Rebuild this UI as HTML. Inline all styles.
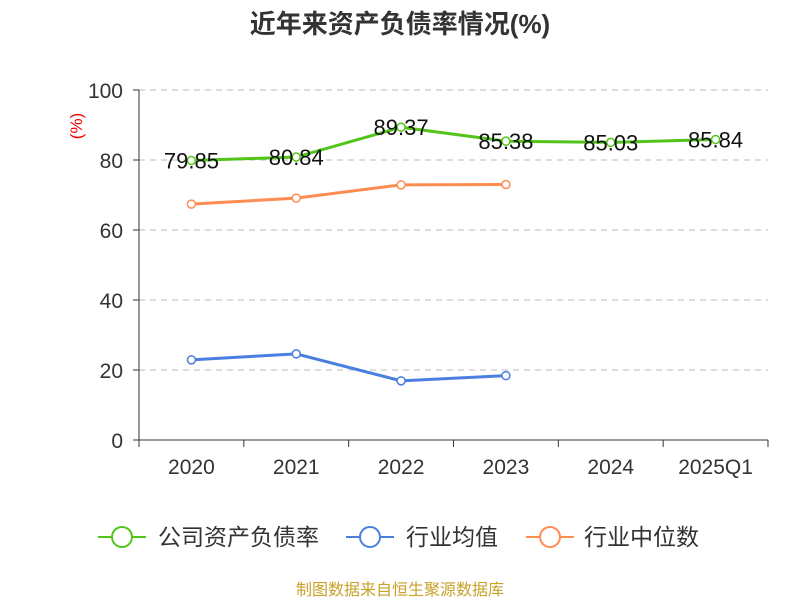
<!DOCTYPE html>
<html><head><meta charset="utf-8"><style>body{margin:0;background:#fff}svg{display:block}text{font-family:"Liberation Sans","Noto Sans CJK SC",sans-serif}</style></head>
<body>
<svg id="c" width="800" height="600" xmlns="http://www.w3.org/2000/svg">
<text x="400" y="33" text-anchor="middle" font-size="26" font-weight="bold" fill="#333">近年来资产负债率情况(%)</text>
<text transform="translate(82,126) rotate(-90)" text-anchor="middle" font-size="17" fill="#e00">(%)</text>
<g id="grid"></g><g id="axes"></g><g id="series"></g>
<g>
<g><line x1="98" y1="537" x2="146" y2="537" stroke="#52c41a" stroke-width="2"/><circle cx="122" cy="537" r="10" fill="#fff" stroke="#52c41a" stroke-width="2"/><text x="158" y="545" font-size="23" fill="#333">公司资产负债率</text></g>
<g><line x1="346" y1="537" x2="394" y2="537" stroke="#4a7fe0" stroke-width="2"/><circle cx="370" cy="537" r="10" fill="#fff" stroke="#4a7fe0" stroke-width="2"/><text x="406" y="545" font-size="23" fill="#333">行业均值</text></g>
<g><line x1="526" y1="537" x2="574" y2="537" stroke="#ff8c50" stroke-width="2"/><circle cx="550" cy="537" r="10" fill="#fff" stroke="#ff8c50" stroke-width="2"/><text x="584" y="545" font-size="23" fill="#333">行业中位数</text></g>
</g>
<text x="400" y="595" text-anchor="middle" font-size="16" fill="#c8a02a">制图数据来自恒生聚源数据库</text>
</svg>
<script>
const categories=["2020","2021","2022","2023","2024","2025Q1"];
const companyValues=[79.85,80.84,89.37,85.38,85.03,85.84];
const avgValues=[22.9,24.6,16.9,18.4];
const medianValues=[67.4,69.1,72.9,73.0];
const yTicks=[0,20,40,60,80,100];
const NS="http://www.w3.org/2000/svg";
const L=139,R=768,T=90,B=440,bw=(R-L)/categories.length;
const x=i=>L+bw*(i+0.5), y=v=>B-(v/100)*(B-T);
function mk(t,a,p){const e=document.createElementNS(NS,t);for(const k in a)e.setAttribute(k,a[k]);p.appendChild(e);return e;}
const grid=document.getElementById('grid'),axes=document.getElementById('axes'),ser=document.getElementById('series');
yTicks.forEach(v=>{
 if(v>0){const g=mk('line',{x1:L,x2:R,y1:y(v),y2:y(v),stroke:'#bbb','stroke-dasharray':'6,5'},grid);}
 const tk=mk('line',{x1:L-6,x2:L,y1:y(v),y2:y(v),stroke:'#333'},axes);
 const t=mk('text',{x:L-16,y:y(v)+8,'text-anchor':'end','font-size':21,fill:'#333'},axes);t.textContent=v;
 
});
const ya=mk('line',{x1:L,x2:L,y1:T,y2:B,stroke:'#333'},axes);
const xa=mk('line',{x1:L,x2:R,y1:B,y2:B,stroke:'#333'},axes);
for(let i=0;i<=categories.length;i++){const tk=mk('line',{x1:L+bw*i,x2:L+bw*i,y1:B,y2:B+7,stroke:'#333'},axes);}
categories.forEach((c,i)=>{const t=mk('text',{x:x(i),y:474,'text-anchor':'middle','font-size':21,fill:'#333'},axes);t.textContent=c;});
function line(vals,color,name,labels){
 const p=mk('polyline',{points:vals.map((v,i)=>x(i)+','+y(v)).join(' '),fill:'none',stroke:color,'stroke-width':3},ser);
 
 vals.forEach((v,i)=>{const c=mk('circle',{cx:x(i),cy:y(v),r:4,fill:'#fff',stroke:color,'stroke-width':1.5},ser);
  if(labels){const t=mk('text',{x:x(i),y:y(v)+8,'text-anchor':'middle','font-size':22,fill:'#111'},ser);t.textContent=v.toFixed(2);}});
}
line(medianValues,'#ff8c50','industry-median',false);
line(avgValues,'#4a7fe0','industry-avg',false);
line(companyValues,'#52c41a','company',true);
</script>
</body></html>
